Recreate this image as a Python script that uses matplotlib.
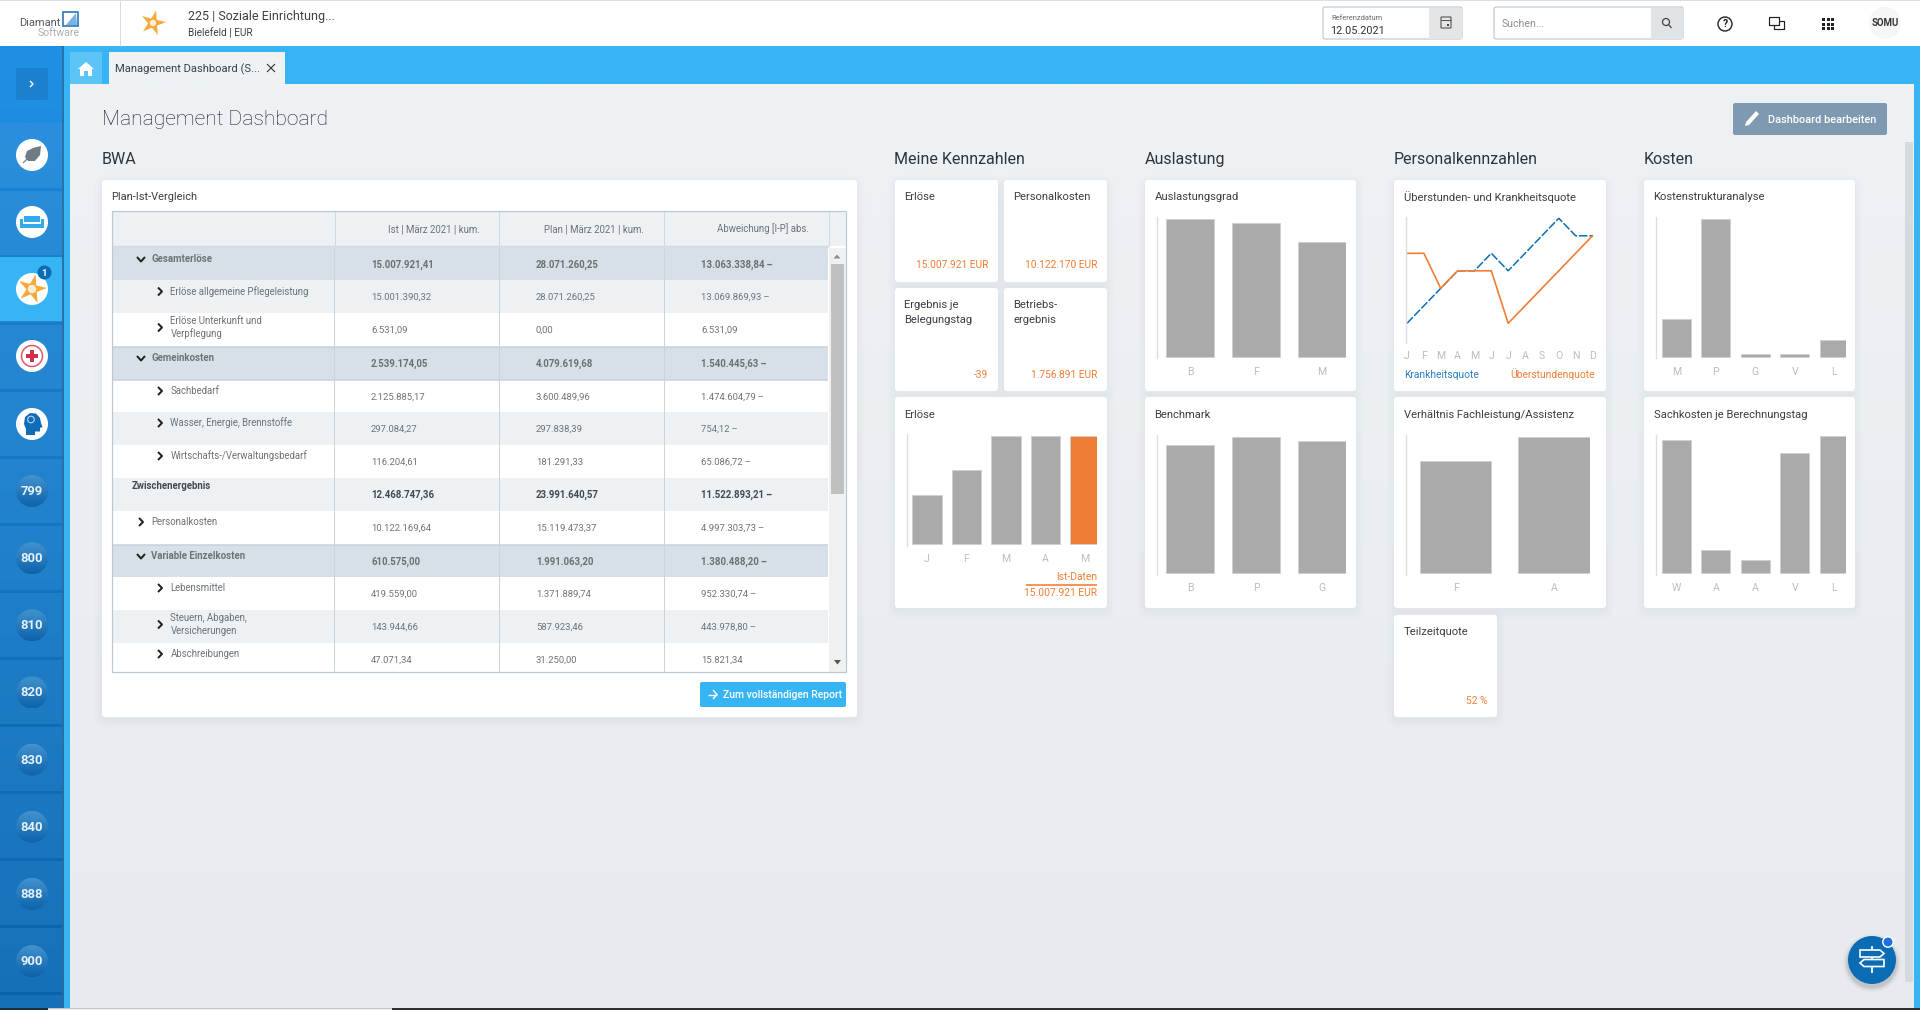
import numpy as np
import matplotlib
matplotlib.use("Agg")
import matplotlib.pyplot as plt
from matplotlib.patches import Rectangle, Circle, FancyBboxPatch, Polygon

plt.rcParams['font.family'] = ['Roboto', 'DejaVu Sans']

# ---------- DATA ----------
sidebar_numbers = ["799", "800", "810", "820", "830", "840", "888", "900"]
table_headers = ["Ist | März 2021 | kum.", "Plan | März 2021 | kum.", "Abweichung [I-P] abs."]
row_labels = ["Gesamterlöse", "Erlöse allgemeine Pflegeleistung", "Erlöse Unterkunft und\nVerpflegung",
              "Gemeinkosten", "Sachbedarf", "Wasser, Energie, Brennstoffe",
              "Wirtschafts-/Verwaltungsbedarf", "Zwischenergebnis", "Personalkosten",
              "Variable Einzelkosten", "Lebensmittel", "Steuern, Abgaben,\nVersicherungen", "Abschreibungen"]
row_kinds = ["group", "child", "child", "group", "child", "child", "child", "sum", "mid", "group", "child", "child", "child"]
ist_values = ["15.007.921,41", "15.001.390,32", "6.531,09", "2.539.174,05", "2.125.885,17", "297.084,27",
              "116.204,61", "12.468.747,36", "10.122.169,64", "610.575,00", "419.559,00", "143.944,66", "47.071,34"]
plan_values = ["28.071.260,25", "28.071.260,25", "0,00", "4.079.619,68", "3.600.489,96", "297.838,39",
               "181.291,33", "23.991.640,57", "15.119.473,37", "1.991.063,20", "1.371.889,74", "587.923,46", "31.250,00"]
abw_values = ["13.063.338,84\u2009–", "13.069.869,93\u2009–", "6.531,09", "1.540.445,63\u2009–", "1.474.604,79\u2009–", "754,12\u2009–",
              "65.086,72\u2009–", "11.522.893,21\u2009–", "4.997.303,73\u2009–", "1.380.488,20\u2009–", "952.330,74\u2009–", "443.978,80\u2009–", "15.821,34"]

erloese_cats = ["J", "F", "M", "A", "M"]
erloese_vals = [6.8, 10.3, 15.0, 15.0, 15.0]
auslastung_cats = ["B", "F", "M"]
auslastung_vals = [100, 97, 83.5]
benchmark_cats = ["B", "P", "G"]
benchmark_vals = [94, 100, 97]
months = ["J", "F", "M", "A", "M", "J", "J", "A", "S", "O", "N", "D"]
krankheit_vals = [0, 1, 2, 3, 3, 4, 3, 4, 5, 6, 5, 5]
ueberstunden_vals = [4, 4, 2, 3, 3, 3, 0, 1, 2, 3, 4, 5]
verhaeltnis_cats = ["F", "A"]
verhaeltnis_vals = [82, 100]
kosten_cats = ["M", "P", "G", "V", "L"]
kosten_vals = [27.5, 100, 2.2, 2.0, 12.3]
sach_cats = ["W", "A", "A", "V", "L"]
sach_vals = [97.5, 17, 9.5, 88, 100]

# ---------- COLOURS ----------
BLUE = "#36b4f3"; ORANGE = "#ef7d35"; BAR = "#aaaaaa"; BAREDGE = "#d0d0d0"
TICK = "#bdbdbd"; TXT = "#3a3f44"; HEAD = "#2f343a"; GREY = "#6a6f74"
W, H = 1920, 1010

fig = plt.figure(figsize=(19.2, 10.1), dpi=100, facecolor="white")
ov = fig.add_axes([0, 0, 1, 1], zorder=0)
ov.axis("off")


def grad(x0, x1, y0, y1, c0, c1, zorder=1, clip=None, horiz=False):
    a = np.array(matplotlib.colors.to_rgb(c0)); b = np.array(matplotlib.colors.to_rgb(c1))
    t = np.linspace(0, 1, 128)[:, None, None]
    img = a[None, None, :] * (1 - t) + b[None, None, :] * t
    if horiz:
        img = np.transpose(img, (1, 0, 2))
    im = ov.imshow(img, extent=(x0, x1, y1, y0), aspect="auto", zorder=zorder, interpolation="bilinear", origin="upper")
    if clip is not None:
        ov.add_patch(clip); clip.set_visible(False)
        im.set_clip_path(clip)
    return im


def rect(x0, y0, x1, y1, c, z=2, **k):
    ov.add_patch(Rectangle((x0, y0), x1 - x0, y1 - y0, facecolor=c, edgecolor="none", zorder=z, **k))


def rrect(x0, y0, x1, y1, c, r=3, z=2, ec="none", lw=0, alpha=None):
    ov.add_patch(FancyBboxPatch((x0, y0), x1 - x0, y1 - y0, boxstyle=f"round,pad=0,rounding_size={r}",
                                facecolor=c, edgecolor=ec, linewidth=lw, zorder=z, alpha=alpha, mutation_aspect=1))


def txt(x, y, s, px=11.5, c=TXT, ha="left", va="center", z=6, **k):
    ov.text(x, y, s, fontsize=px * 0.72, color=c, ha=ha, va=va, zorder=z, **k)


def line(xs, ys, c, lw=1.0, z=5, **k):
    ov.plot(xs, ys, color=c, lw=lw * 0.72, zorder=z, solid_capstyle=k.pop("cap", "butt"), **k)


def star(cx, cy, R, r, c, rot=0.0, z=6):
    ang = np.deg2rad(-90 + rot) + np.arange(10) * np.pi / 5
    rad = np.where(np.arange(10) % 2 == 0, R, r)
    ov.add_patch(Polygon(np.c_[cx + rad * np.cos(ang), cy + rad * np.sin(ang)], facecolor=c, edgecolor="none", zorder=z))


def card(x0, y0, x1, y1):
    for i, a in zip((9, 6, 3), (0.018, 0.025, 0.03)):
        rrect(x0 - i + 1, y0 - i + 4, x1 + i - 1, y1 + i + 2, "#8a98a8", r=5 + i, z=2.5, alpha=a)
    rrect(x0, y0, x1, y1, "white", r=3, z=3)


# ---------- BACKGROUND ----------
grad(70, W, 84, H, "#eef2f5", "#e7eaef", zorder=0.5)
rect(0, 0, W, 46, "white", z=1)
rect(0, 0, W, 1.2, "#dcdfe3", z=1.2)
rect(64, 46, W, 84, BLUE, z=1)
rect(64, 84, 70, 1008, BLUE, z=1)
rect(1914, 84, W, 1008, BLUE, z=1)
rect(1905, 142, 1913, 982, "#d5dade", z=1)
rect(0, 1008, 48, H, "#1b2f3d", z=4)
rect(48, 1008, 392, H, "#f0f0f0", z=4)
rect(48, 1008, 392, 1009, "#c4c4c4", z=4.1)
rect(392, 1008, W, H, "#2f2f2f", z=4)

# ---------- SIDEBAR ----------
grad(0, 64, 46, 1008, "#1f90e4", "#146fb6", zorder=1)
grad(0, 64, 123, 1008, "#2a8fdc", "#1670b8", zorder=1.1)
for i in range(13):
    s = 188 + 67 * i
    t = i / 12
    col = np.array(matplotlib.colors.to_rgb("#1a82d2")) * (1 - t) + np.array(matplotlib.colors.to_rgb("#0a63aa")) * t
    rect(0, s, 64, s + 3, col, z=1.3)
rect(0, 257, 62, 321, BLUE, z=1.4)
rect(62, 46, 64, 1006, "#2d6a9e", z=1.5, alpha=0.8)
rrect(16, 68, 48, 100, "#1a80cf", r=2, z=2)
line([30, 33, 30], [81, 84, 87], "white", 1.4)

rows_y = [155, 222, 289, 356, 424]
for y in rows_y:
    ov.add_patch(Circle((32, y), 16, facecolor="white", edgecolor="none", zorder=3))
# leaf
ov.add_patch(Polygon([(41, 146), (40, 155), (35, 161), (28, 161), (25, 157), (27, 151), (33, 148)], facecolor="#6f7c86", zorder=4))
line([23, 34], [163, 152], "#6f7c86", 1.2)
# sofa
rect(24, 216, 40, 222, "#36a9ea", z=4)
rect(20, 219, 23, 228, "#36a9ea", z=4)
rect(41, 219, 44, 228, "#36a9ea", z=4)
rect(23, 224, 41, 228, "#36a9ea", z=4)
# star
star(32, 289, 15, 5.5, "#f5a93a", rot=14)
ov.add_patch(Circle((32, 289), 4.2, facecolor="#fdeed6", zorder=6.5))
ov.add_patch(Circle((44.5, 272.5), 7, facecolor="#0a6cb5", zorder=6.5))
txt(44.5, 273, "1", 9.5, "white", ha="center", z=7, fontweight="bold")
# cross
ov.add_patch(Circle((32, 356), 10.5, facecolor="white", edgecolor="#dd5a70", lw=1.1, zorder=4))
rect(29.7, 350, 34.3, 362, "#cf3048", z=5)
rect(26, 353.7, 38, 358.3, "#cf3048", z=5)
# head
ov.add_patch(Polygon([(26, 435), (26, 429), (24, 424), (25, 417), (30, 413), (36, 413.5), (40, 418), (41, 423), (42.5, 427),
                      (40, 428), (40, 431.5), (35, 431.5), (35, 435)], facecolor="#0f6db8", zorder=4))
ov.add_patch(Circle((31, 419.5), 3.3, facecolor="none", edgecolor="#bcd9f0", lw=0.8, zorder=5))
# number badges
for i, n in enumerate(sidebar_numbers):
    y = 491 + 67.15 * i
    c = Circle((32, y), 16, transform=ov.transData)
    grad(16, 48, y - 16, y + 16, "#4293cf", "#0d62aa", zorder=3, clip=c)
    txt(32, y + 0.5, n, 13, "#e6f1f9", ha="center", fontweight="bold")

# ---------- TOP BAR ----------
line([120, 120], [1, 46], "#d7dbdf", 1)
txt(19, 22.5, "Diamant", 11, "#555b60")
txt(38, 32.5, "Software", 10.5, "#a9adb1")
ov.add_patch(Polygon([(63, 12), (78, 12), (78, 26), (63, 26)], facecolor="white", edgecolor="#2b78bb", lw=1.2, zorder=5))
ov.add_patch(Polygon([(76, 13), (77, 25), (66, 25)], facecolor="#7ab4e4", zorder=5.1))
star(153, 23, 13, 4.8, "#f5a93a", rot=14)
ov.add_patch(Circle((153, 23), 3.2, facecolor="#fdeed6", zorder=6.5))
txt(188, 16.5, "225 | Soziale Einrichtung...", 12.5, "#3c4146")
txt(188, 33.5, "Bielefeld | EUR", 10, "#3c4146")

rrect(1323, 7, 1462, 39, "white", r=2, ec="#b9c5cf", lw=0.8)
rect(1429, 8, 1461.5, 38.5, "#e3e5e7", z=2.2)
txt(1331, 18, "Referenzdatum", 7.5, "#666b70")
txt(1330, 31, "12.05.2021", 10.9, "#2d3237")
rrect(1441, 17, 1451, 28, "none", r=0.5, ec="#555", lw=0.8, z=5)
line([1441, 1451], [20, 20], "#555", 1)
rect(1447, 24, 1449, 26, "#444", z=5)
rrect(1494, 7, 1683, 39, "white", r=2, ec="#b9c5cf", lw=0.8)
rect(1651, 8, 1682.5, 38.5, "#e1e4e7", z=2.2)
txt(1502, 24, "Suchen...", 10.5, "#8a8f94")
ov.add_patch(Circle((1666, 22), 3.5, facecolor="none", edgecolor="#444", lw=0.9, zorder=5))
line([1668.5, 1671.5], [24.5, 28], "#444", 1.3)
ov.add_patch(Circle((1725, 24), 7, facecolor="none", edgecolor="#222", lw=1.0, zorder=5))
txt(1725, 24.2, "?", 10.5, "#222", ha="center", fontweight="bold")
line([1774, 1784, 1784, 1774, 1774], [21, 21, 29, 29, 21], "#222", 1.2, z=4)
rect(1769, 17, 1779, 25, "white", z=4.5)
line([1769, 1779, 1779, 1769, 1769], [17, 17, 25, 25, 17], "#222", 1.2)
for gx in (1822, 1826.5, 1831):
    for gy in (18, 22.5, 27):
        rect(gx, gy, gx + 3, gy + 3, "#222", z=5)
ov.add_patch(Circle((1885, 23), 16, facecolor="#f6f6f6", zorder=2))
txt(1885, 23, "SOMU", 9.6, "#333", ha="center", fontweight="bold")

# ---------- TABS ----------
rect(70, 52, 102, 84, "#5cc5f6", z=2)
ov.add_patch(Polygon([(86, 62), (94, 69), (92, 69), (92, 76), (88, 76), (88, 71), (84, 71), (84, 76), (80, 76), (80, 69), (78, 69)],
                     facecolor="white", zorder=4))
rect(109, 52, 285, 84, "#eef2f5", z=2)
txt(115, 69, "Management Dashboard (S...", 11.2, "#3c4146")
line([267, 275], [64, 72], "#333", 1.1)
line([275, 267], [64, 72], "#333", 1.1)

# ---------- PAGE TITLES ----------
txt(102, 119.5, "Management Dashboard", 21, "#1d2125", fontweight="light")
rrect(1733, 103, 1887, 135, "#7e99b0", r=2)
txt(1768, 120, "Dashboard bearbeiten", 11, "white", fontweight="medium")
ov.add_patch(Polygon([(1756, 111), (1759, 114), (1749, 125), (1745, 126), (1746, 122)], facecolor="white", zorder=5))
for x, s in zip((102, 894.5, 1144.5, 1394, 1644), ("BWA", "Meine Kennzahlen", "Auslastung", "Personalkennzahlen", "Kosten")):
    txt(x, 159.5, s, 16, "#30353a")

# ---------- BWA TABLE ----------
card(102, 180, 857, 717)
txt(111, 197, "Plan-Ist-Vergleich", 11, TXT)
rect(112, 211, 846, 246, "#eef1f4", z=3.2)
row_tops = [248, 280, 313, 347, 380, 412, 445, 478, 511, 545, 577, 610, 643, 672]
label_ys = [259, 291.5, None, 358, 391, 423, 456, 486, 522, 556, 588, None, 654]
value_ys = [265, 297, 330, 364, 397, 429, 462, 495, 528, 562, 594, 627, 660]
row_fill = ["#d8e0e7", "#edf1f4", "white", "#d8e0e7", "white", "#edf1f4", "white", "#edf1f4", "white", "#d8e0e7", "white", "#edf1f4", "white"]
two_line_y = {2: (321, 334), 11: (618, 631)}
for i, lab in enumerate(row_labels):
    top, bot = row_tops[i], row_tops[i + 1]
    rect(112, top, 828, bot, row_fill[i], z=3.2)
    kind = row_kinds[i]
    if kind in ("group", "mid"):
        tx, cx = 151, 141
    elif kind == "sum":
        tx, cx = 132, None
    else:
        tx, cx = 170.5, 160
    bold = kind in ("group", "sum")
    lc = {"group": "#6d7479", "sum": "#44494e"}.get(kind, "#6d7277")
    vc = {"group": "#6a7075", "sum": "#44494e"}.get(kind, "#6f7478")
    if i in two_line_y:
        a, b = lab.split("\n")
        txt(tx, two_line_y[i][0], a, 9.7, lc)
        txt(tx, two_line_y[i][1], b, 9.7, lc)
        cy = sum(two_line_y[i]) / 2
    else:
        txt(tx, label_ys[i], lab, 9.7, lc, fontweight="bold" if bold else "normal")
        cy = label_ys[i]
    if cx is not None:
        if kind == "group":
            line([cx - 4, cx, cx + 4], [cy - 2, cy + 2.5, cy - 2], "#222", 2.0)
        else:
            line([cx - 2, cx + 2, cx - 2], [cy - 4, cy, cy + 4], "#222", 2.0)
    for vx, vals in zip((371, 536, 701), (ist_values, plan_values, abw_values)):
        txt(vx, value_ys[i], vals[i], 9.7 if bold else 9.5, vc, fontweight="bold" if bold else "normal")
for y in (347, 380, 545):
    line([112, 828], [y, y], "#c6d1da", 1.5)
line([112, 829], [246.5, 246.5], "#d6dce1", 2.5)
for x in (334, 498.5, 664):
    line([x, x], [248, 672], "#cbd4db", 1)
for x in (334.5, 499, 664, 829):
    line([x, x], [211, 246], "#d3d9de", 1)
for x, s in zip((480, 644, 809), table_headers):
    txt(x, 229, s, 9.65, "#6d7277", ha="right")
rect(829, 248, 846, 672, "#f1f1f1", z=3.2)
rect(831, 264, 844, 494, "#c0c0c0", z=3.3)
ov.add_patch(Polygon([(833.5, 258.5), (840.5, 258.5), (837, 254.5)], facecolor="#8d8d8d", zorder=4))
ov.add_patch(Polygon([(834, 660), (841, 660), (837.5, 664.5)], facecolor="#555", zorder=4))
ov.add_patch(Rectangle((112, 211), 734, 461, facecolor="none", edgecolor="#bcc8d2", lw=0.9, zorder=5.5))
rrect(700, 682, 846, 707, BLUE, r=2, z=4)
txt(723, 694.5, "Zum vollständigen Report", 10.4, "white", fontweight="medium")
line([708, 717], [694.5, 694.5], "white", 1.4)
line([713, 717, 713], [690, 694.5, 699], "white", 1.4)

# ---------- KPI CARDS ----------
kpis = [(895, 180, 998, 282, ["Erlöse"], "15.007.921 EUR"),
        (1004, 180, 1107, 282, ["Personalkosten"], "10.122.170 EUR"),
        (895, 288, 998, 391, ["Ergebnis je", "Belegungstag"], "-39"),
        (1004, 288, 1107, 391, ["Betriebs-", "ergebnis"], "1.756.891 EUR"),
        (1394, 615, 1497, 717, ["Teilzeitquote"], "52 %")]
for x0, y0, x1, y1, title, val in kpis:
    card(x0, y0, x1, y1)
    for j, t in enumerate(title):
        txt(x0 + 9.5, y0 + 17 + j * 15, t, 11.3, TXT)
    txt(x1 - 10, y1 - 16.5, val, 10.1, ORANGE, ha="right")

big_cards = [(895, 397, 1107, 608), (1145, 180, 1356, 391), (1145, 397, 1356, 608), (1394, 180, 1606, 391),
             (1394, 397, 1606, 608), (1644, 180, 1855, 391), (1644, 397, 1855, 608)]
big_titles = ["Erlöse", "Auslastungsgrad", "Benchmark", "Überstunden- und Krankheitsquote",
              "Verhältnis Fachleistung/Assistenz", "Kostenstrukturanalyse", "Sachkosten je Berechnungstag"]
for (x0, y0, x1, y1), t in zip(big_cards, big_titles):
    card(x0, y0, x1, y1)
    txt(x0 + 9.5, y0 + (16.7 if y0 == 180 else 17.5), t, 11.3, TXT)


# ---------- CHARTS ----------
def axes_px(x0, y0, x1, y1):
    a = fig.add_axes([x0 / W, 1 - y1 / H, (x1 - x0) / W, (y1 - y0) / H], zorder=3)
    a.patch.set_alpha(0)
    for s in ("top", "right", "bottom"):
        a.spines[s].set_visible(False)
    a.spines["left"].set_color("#dedede")
    a.spines["left"].set_linewidth(1.0)
    a.set_yticks([])
    a.tick_params(axis="x", length=0, labelsize=10.5 * 0.72, labelcolor=TICK, pad=0)
    return a


def bars(x0, y0, x1, y1, base, cats, vals, first, step, width, max_px, colors=None, tick_y=None):
    a = axes_px(x0, y0, x1, y1)
    ppu = max_px / max(vals)
    a.set_xlim((x0 - first) / step, (x1 - first) / step)
    a.set_ylim(-(y1 - base) / ppu, (base - y0) / ppu)
    a.bar(range(len(vals)), vals, width=width / step, color=colors or BAR, edgecolor=BAREDGE, linewidth=0.6)
    a.set_xticks(range(len(cats)), cats)
    a.tick_params(axis="x", pad=(tick_y - y1 - 5) * 0.72)
    return a


bars(907, 434, 1097, 546, 544, erloese_cats, erloese_vals, 927, 39.5, 29.5, 108,
     colors=[BAR, BAR, BAR, BAR, ORANGE], tick_y=559)
bars(1157, 217, 1346, 358, 357, auslastung_cats, auslastung_vals, 1190, 66, 48, 138, tick_y=372)
bars(1157, 435, 1346, 575, 573, benchmark_cats, benchmark_vals, 1190, 66, 48, 136, tick_y=588)
bars(1406, 435, 1590, 575, 573, verhaeltnis_cats, verhaeltnis_vals, 1455.5, 98.5, 71.5, 136, tick_y=588)
bars(1656, 217, 1846, 358, 357, kosten_cats, kosten_vals, 1676.5, 39.4, 29, 138, tick_y=372)
bars(1656, 435, 1846, 575, 573, sach_cats, sach_vals, 1676.5, 39.4, 29, 136.5, tick_y=588)

la = axes_px(1406, 217, 1594, 343)
step = (1592.5 - 1407) / 11
la.set_xlim((1406 - 1407) / step, (1594 - 1407) / step)
la.set_ylim((323.3 - 343) / 17.5, (323.3 - 217) / 17.5)
la.plot(range(12), krankheit_vals, color="#0b6fb8", lw=1.1, linestyle=(0, (5.5, 1.3)))
la.plot(range(12), ueberstunden_vals, color=ORANGE, lw=1.2)
la.set_xticks(range(12), months)
la.tick_params(axis="x", pad=(356 - 343 - 5) * 0.72)

txt(1404, 374.5, "Krankheitsquote", 10.3, "#2a7fc4")
txt(1595, 374.5, "Überstundenquote", 10.2, ORANGE, ha="right")
txt(1097, 577.5, "Ist-Daten", 10.2, ORANGE, ha="right")
line([1026, 1097], [584.5, 584.5], ORANGE, 1.6, z=8)
txt(1097, 592.5, "15.007.921 EUR", 10.2, ORANGE, ha="right")

# ---------- CHAT BUTTON ----------
for r, a in ((29, 0.04), (27, 0.07), (25.5, 0.1)):
    ov.add_patch(Circle((1872, 963), r, facecolor="#333", alpha=a, zorder=3))
ov.add_patch(Circle((1872, 960), 24, facecolor="#0a6cb5", zorder=4))
line([1872, 1872], [946, 973], "white", 1.8, z=5)
ov.add_patch(Polygon([(1860, 950), (1880, 950), (1884, 953.5), (1880, 957), (1860, 957)], facecolor="#0a6cb5", edgecolor="white", lw=1.2, zorder=6))
ov.add_patch(Polygon([(1864, 959.5), (1884, 959.5), (1884, 966.5), (1864, 966.5), (1860, 963)], facecolor="#0a6cb5", edgecolor="white", lw=1.2, zorder=6))
ov.add_patch(Circle((1888, 942), 5.2, facecolor="#2070e0", edgecolor="white", lw=1.0, zorder=7))

ov.set_xlim(0, W)
ov.set_ylim(H, 0)
fig.savefig("out.png", dpi=100)
